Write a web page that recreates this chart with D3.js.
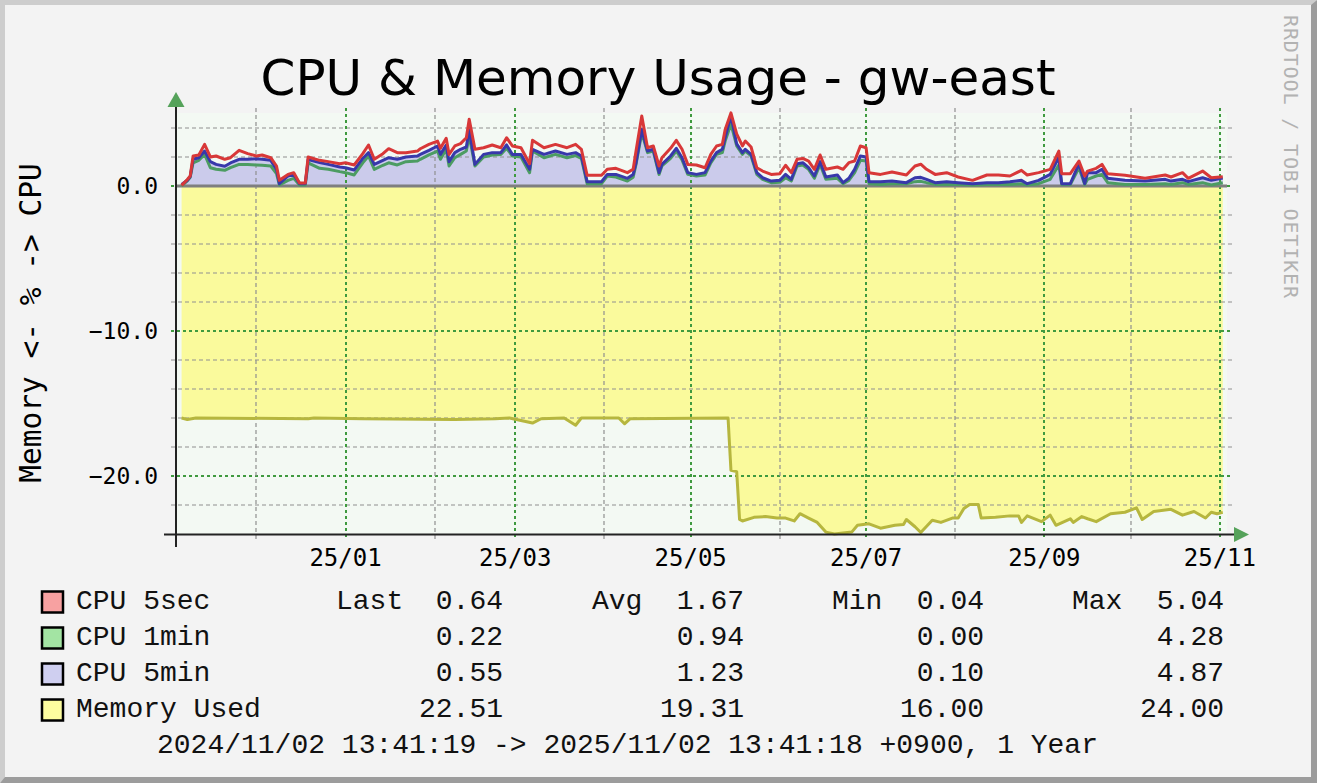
<!DOCTYPE html>
<html>
<head>
<meta charset="utf-8">
<script src="https://cdn.jsdelivr.net/npm/d3@7"></script>
<style>
  body { margin: 0; background: #f3f3f3; }
  svg { display: block; }
</style>
</head>
<body>
<div id="chart"></div>
<script>

// days counted from 2024/11/02 00:00 local time
const cpuDays = [3,5,6,7,9,11,13,15,18,20,23,26,29,31,34,36,37,40,42,44,46,47,51,54,58,60,63,66,68,70,73,75,78,81,85,86,89,92,93,95,96,98,100,102,103,105,108,111,114,116,118,121,124,125,129,133,137,140,142,144,149,151,154,158,160,161,163,165,167,169,170,173,175,177,179,182,185,187,189,191,192,194,196,198,199,201,203,205,208,211,213,215,217,219,221,223,225,227,231,233,235,237,239,241,242,246,250,255,258,260,262,265,269,273,278,283,287,291,295,297,301,305,308,309,312,315,317,318,321,323,325,331,338,345,347,351,353,358,361,365];

const cpu5sec = [0.04,0.45,0.70,2.07,2.14,2.87,2.00,2.07,1.84,1.95,2.46,2.23,2.07,2.14,1.95,1.38,0.39,0.80,0.92,0.20,0.20,2.00,1.77,1.68,1.54,1.60,1.45,2.23,2.83,1.84,2.23,2.57,2.30,2.30,2.41,2.57,2.87,3.10,2.60,3.29,2.18,2.76,2.92,3.33,4.60,2.53,2.64,2.83,2.64,3.33,2.76,2.64,1.54,3.15,2.64,2.87,2.64,2.87,2.53,0.74,0.74,1.15,1.22,0.92,1.15,2.41,4.83,2.64,2.76,1.38,1.95,2.60,3.15,2.53,1.49,1.45,1.26,2.18,2.76,2.87,3.90,5.04,3.60,2.76,3.10,2.69,1.26,1.03,0.80,0.85,1.43,0.92,1.84,1.90,1.72,1.15,2.14,1.15,1.31,1.15,1.61,1.72,2.76,2.64,0.92,0.80,0.97,0.76,1.38,1.50,1.15,0.80,0.92,0.62,0.39,0.76,0.76,0.69,1.08,0.76,0.92,1.15,2.41,0.85,0.85,1.72,0.69,1.03,1.22,1.49,0.85,0.74,0.53,0.76,0.62,0.92,0.53,1.03,0.57,0.64];

const cpu1min = [0.00,0.35,0.60,1.60,1.77,2.18,1.26,1.15,1.08,1.26,1.49,1.49,1.45,1.43,1.38,0.85,0.07,0.39,0.53,0.07,0.07,1.60,1.22,1.15,0.99,0.92,0.76,1.60,2.07,1.15,1.43,1.60,1.45,1.68,1.72,1.84,2.14,2.41,1.84,2.53,1.38,1.95,2.18,2.41,3.45,1.38,2.00,2.14,2.18,2.60,2.07,2.00,0.92,2.41,1.95,2.18,1.95,2.10,1.90,0.16,0.16,0.69,0.62,0.34,0.60,1.49,3.68,2.30,2.41,0.80,1.38,1.91,2.41,1.80,0.80,0.69,0.75,1.60,2.18,2.30,3.10,4.28,2.76,2.18,2.41,2.07,0.80,0.46,0.23,0.25,0.57,0.34,1.38,1.45,1.15,0.53,1.49,0.46,0.53,0.16,0.39,0.92,1.77,1.72,0.16,0.11,0.16,0.16,0.30,0.32,0.23,0.11,0.11,0.11,0.07,0.11,0.11,0.11,0.16,0.07,0.16,0.46,1.45,0.11,0.10,1.26,0.11,0.46,0.69,0.80,0.23,0.11,0.11,0.16,0.11,0.23,0.11,0.23,0.07,0.22];

const cpu5min = [0.10,0.40,0.65,1.84,1.95,2.41,1.68,1.49,1.36,1.59,1.84,1.84,1.88,1.84,1.77,1.15,0.16,0.69,0.80,0.16,0.16,1.82,1.61,1.49,1.31,1.26,1.10,1.90,2.30,1.49,1.77,1.95,1.84,2.00,2.07,2.18,2.46,2.76,2.18,2.83,1.68,2.30,2.53,2.69,3.90,1.49,2.18,2.30,2.30,2.83,2.18,2.18,1.15,2.53,2.18,2.41,2.18,2.30,2.07,0.30,0.30,0.80,0.80,0.53,0.80,1.60,3.90,2.41,2.53,0.92,1.49,2.07,2.60,1.95,0.92,0.80,0.92,1.72,2.30,2.53,3.33,4.87,2.90,2.30,2.53,2.18,0.92,0.57,0.34,0.39,0.80,0.46,1.54,1.61,1.26,0.69,1.68,0.62,0.76,0.23,0.53,1.15,2.07,2.00,0.30,0.30,0.34,0.23,0.57,0.60,0.46,0.23,0.30,0.23,0.16,0.23,0.23,0.30,0.39,0.16,0.39,0.80,2.00,0.16,0.16,1.54,0.16,0.92,0.92,1.15,0.53,0.39,0.34,0.46,0.34,0.46,0.30,0.57,0.39,0.55];

const memDays = [3,5,8,47,49,66,98,112,117,125,128,136,140,142,155,157,159,193,194,196,197,198,202,206,210,213,216,218,221,224,227,230,236,238,242,246,251,254,255,258,260,264,267,271,273,275,277,280,281,286,291,294,295,297,302,305,307,312,313,316,318,321,326,331,335,337,341,347,351,355,359,361,363,365];

const memUsed = [16.0,16.1,16.0,16.05,16.0,16.05,16.1,16.05,16.0,16.35,16.05,16.0,16.5,16.0,16.0,16.4,16.05,16.0,19.6,19.7,23.0,23.1,22.85,22.8,22.9,22.9,23.1,22.6,22.9,23.2,23.87,24.0,23.87,23.4,23.3,23.6,23.4,23.35,23.0,23.5,23.9,23.05,23.2,22.9,22.9,22.24,21.97,21.97,22.9,22.85,22.75,22.75,23.2,22.75,23.15,22.7,23.4,22.95,23.2,22.8,22.95,23.15,22.6,22.5,22.2,23.0,22.45,22.3,22.7,22.45,22.9,22.5,22.6,22.51];

// legend table
const legendNames = ["CPU 5sec", "CPU 1min", "CPU 5min", "Memory Used"];
const legendLast = ["0.64", "0.22", "0.55", "22.51"];
const legendAvg = ["1.67", "0.94", "1.23", "19.31"];
const legendMin = ["0.04", "0.00", "0.10", "16.00"];
const legendMax = ["5.04", "4.28", "4.87", "24.00"];

const W = 1317, H = 783;
const plot = { left: 176, right: 1227, top: 113, bottom: 534 };
const mono = "'DejaVu Sans Mono', monospace";
const legendFont = "'Liberation Mono', monospace";

const day0 = new Date(2024, 10, 2);
const tStart = new Date(2024, 10, 2, 13, 41, 19);
const tEnd = new Date(2025, 10, 2, 13, 41, 18);
const toDate = d => d3.timeDay.offset(day0, d);

const svg = d3.select("#chart").append("svg")
    .attr("width", W)
    .attr("height", H);

// background + 3d frame
svg.append("rect").attr("width", W).attr("height", H).attr("fill", "#f3f3f3");
svg.append("polygon")
    .attr("points", `0,0 ${W},0 ${W - 5},5 5,5 5,${H - 5} 0,${H}`)
    .attr("fill", "#cdcdcd");
svg.append("polygon")
    .attr("points", `${W},0 ${W},${H} 0,${H} 5,${H - 6} ${W - 6},${H - 6} ${W - 6},5`)
    .attr("fill", "#9c9c9c");

const x = d3.scaleTime()
    .domain([tStart, tEnd])
    .range([174.6, 1224.4]);

const y = d3.scaleLinear()
    .domain([-24, 5.034])
    .range([plot.bottom, plot.top]);

// canvas
svg.append("rect")
    .attr("x", plot.left).attr("y", plot.top)
    .attr("width", plot.right - plot.left)
    .attr("height", plot.bottom - plot.top)
    .attr("fill", "#f3f9f3");

const cpu = cpuDays.map((d, i) => ({
    date: toDate(d), s5: cpu5sec[i], m1: cpu1min[i], m5: cpu5min[i]
}));
const mem = memDays.map((d, i) => ({ date: toDate(d), v: memUsed[i] }));

// memory area (drawn negative)
svg.append("path")
    .datum(mem)
    .attr("fill", "#fafa9c")
    .attr("d", d3.area().x(d => x(d.date)).y0(y(0)).y1(d => y(-d.v)));

// cpu 5min area
svg.append("path")
    .datum(cpu)
    .attr("fill", "#cbcbeb")
    .attr("d", d3.area().x(d => x(d.date)).y0(y(0)).y1(d => y(d.m5)));

// grid
const grid = svg.append("g");
const yGrid = d3.range(-22, 5, 2);
grid.selectAll(".hg")
    .data(yGrid)
    .enter().append("line")
    .attr("x1", plot.left - 5).attr("x2", plot.right + 5)
    .attr("y1", d => Math.round(y(d))).attr("y2", d => Math.round(y(d)))
    .attr("stroke", d => d % 10 === 0 ? "#3f9a3f" : "#8f8f8f")
    .attr("stroke-width", d => d % 10 === 0 ? 2 : 1.2)
    .attr("stroke-dasharray", d => d % 10 === 0 ? "3,3" : "4,3");

const months = d3.timeMonth.range(d3.timeMonth.ceil(tStart), tEnd);
const isMajor = m => m.getMonth() % 2 === 0;
grid.selectAll(".vg")
    .data(months)
    .enter().append("line")
    .attr("x1", d => Math.round(x(d))).attr("x2", d => Math.round(x(d)))
    .attr("y1", plot.top - 5).attr("y2", plot.bottom + 6)
    .attr("stroke", d => isMajor(d) ? "#3f9a3f" : "#8f8f8f")
    .attr("stroke-width", d => isMajor(d) ? 2 : 1.2)
    .attr("stroke-dasharray", d => isMajor(d) ? "3,3" : "4,3");

// zero line
svg.append("line")
    .attr("x1", plot.left).attr("x2", plot.right)
    .attr("y1", y(0)).attr("y2", y(0))
    .attr("stroke", "#7f7f7f")
    .attr("stroke-width", 3);

// lines
const lineOf = fn => d3.line().x(d => x(d.date)).y(fn);
svg.append("path").datum(mem)
    .attr("fill", "none").attr("stroke", "#b6b63e").attr("stroke-width", 3)
    .attr("stroke-linejoin", "round")
    .attr("d", lineOf(d => y(-d.v)));
svg.append("path").datum(cpu)
    .attr("fill", "none").attr("stroke", "#4c9c62").attr("stroke-width", 3)
    .attr("stroke-linejoin", "round")
    .attr("d", lineOf(d => y(d.m1)));
svg.append("path").datum(cpu)
    .attr("fill", "none").attr("stroke", "#3838aa").attr("stroke-width", 3)
    .attr("stroke-linejoin", "round")
    .attr("d", lineOf(d => y(d.m5)));
svg.append("path").datum(cpu)
    .attr("fill", "none").attr("stroke", "#d83838").attr("stroke-width", 3)
    .attr("stroke-linejoin", "round")
    .attr("d", lineOf(d => y(d.s5)));

// axes
svg.append("line")
    .attr("x1", plot.left).attr("x2", plot.left)
    .attr("y1", 100).attr("y2", 547)
    .attr("stroke", "#222").attr("stroke-width", 2);
svg.append("line")
    .attr("x1", 164).attr("x2", 1236)
    .attr("y1", plot.bottom + 0.5).attr("y2", plot.bottom + 0.5)
    .attr("stroke", "#222").attr("stroke-width", 2);
svg.append("polygon")
    .attr("points", `${plot.left - 8.5},107 ${plot.left + 8.5},107 ${plot.left},92`)
    .attr("fill", "#55a25a");
svg.append("polygon")
    .attr("points", `1234,527 1234,542 1249,534.5`)
    .attr("fill", "#55a25a");

// y tick labels
svg.selectAll(".ylab")
    .data([0, -10, -20])
    .enter().append("text")
    .attr("x", 158)
    .attr("y", d => y(d) + 8)
    .attr("text-anchor", "end")
    .attr("font-family", mono)
    .attr("font-size", 23)
    .text(d => d3.format(".1f")(d));

// x tick labels
svg.selectAll(".xlab")
    .data(months.filter(isMajor))
    .enter().append("text")
    .attr("x", d => x(d))
    .attr("y", 566)
    .attr("text-anchor", "middle")
    .attr("font-family", mono)
    .attr("font-size", 24)
    .text(d3.timeFormat("%y/%m"));

// title
svg.append("text")
    .attr("x", 658).attr("y", 95)
    .attr("text-anchor", "middle")
    .attr("font-family", "'DejaVu Sans', sans-serif")
    .attr("font-size", 50)
    .text("CPU & Memory Usage - gw-east");

// y axis title
svg.append("text")
    .attr("transform", "translate(41,323) rotate(-90)")
    .attr("text-anchor", "middle")
    .attr("font-family", mono)
    .attr("font-size", 29.5)
    .text("Memory <- % -> CPU");

// watermark
svg.append("text")
    .attr("transform", "translate(1284,15) rotate(90)")
    .attr("font-family", mono)
    .attr("font-size", 20)
    .attr("fill", "#b2b2b2")
    .attr("textLength", 283)
    .text("RRDTOOL / TOBI OETIKER");

// legend
const swatch = ["#f7a1a1", "#a3e4a3", "#cfcff0", "#fdfd9f"];
const rowBase = [609, 645, 681, 717];
const leg = svg.append("g")
    .attr("font-family", legendFont)
    .attr("font-size", 28)
    .attr("fill", "#111");

legendNames.forEach((name, i) => {
    const b = rowBase[i];
    leg.append("rect")
        .attr("x", 42).attr("y", b - 17.5)
        .attr("width", 21).attr("height", 21)
        .attr("fill", swatch[i])
        .attr("stroke", "#000").attr("stroke-width", 2.5);
    leg.append("text").attr("x", 76).attr("y", b).text(name);
    leg.append("text").attr("x", 503).attr("y", b).attr("text-anchor", "end").text(legendLast[i]);
    leg.append("text").attr("x", 744).attr("y", b).attr("text-anchor", "end").text(legendAvg[i]);
    leg.append("text").attr("x", 984).attr("y", b).attr("text-anchor", "end").text(legendMin[i]);
    leg.append("text").attr("x", 1224).attr("y", b).attr("text-anchor", "end").text(legendMax[i]);
});
leg.append("text").attr("x", 336).attr("y", rowBase[0]).text("Last");
leg.append("text").attr("x", 592).attr("y", rowBase[0]).text("Avg");
leg.append("text").attr("x", 832).attr("y", rowBase[0]).text("Min");
leg.append("text").attr("x", 1072).attr("y", rowBase[0]).text("Max");

leg.append("text")
    .attr("x", 157).attr("y", 753)
    .text("2024/11/02 13:41:19 -> 2025/11/02 13:41:18 +0900, 1 Year");
</script>
</body>
</html>
